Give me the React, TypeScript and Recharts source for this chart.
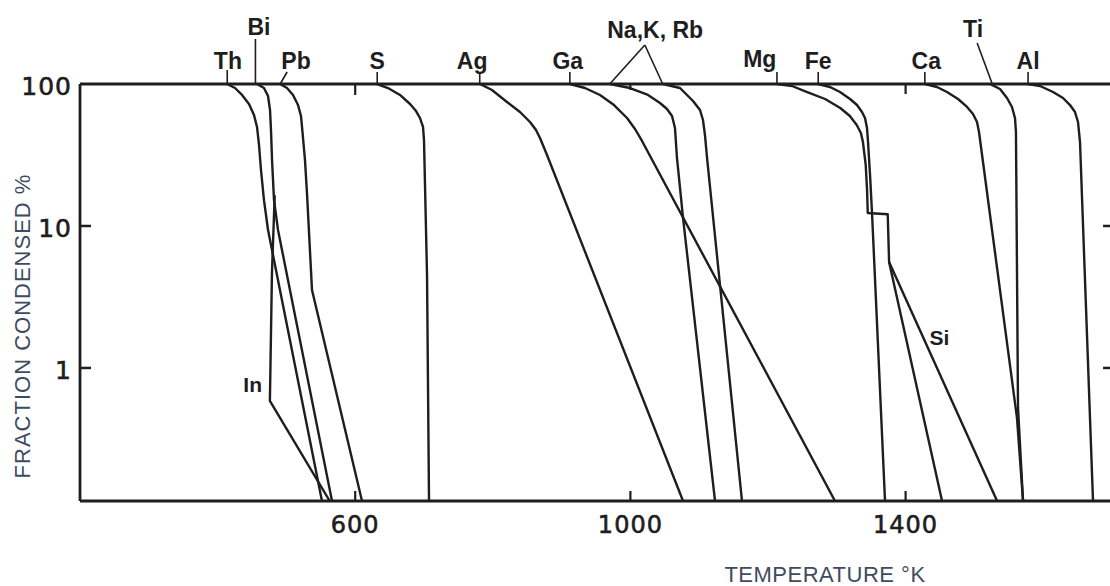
import React from 'react';
import { LineChart, Line, XAxis, YAxis, ReferenceLine, ReferenceDot, Label } from 'recharts';

// ---------- axes ----------
const Y_MIN = 0.1156;
const Y_MAX = 100;
const T_MIN = 200;
const T_MAX = 1700;
const xTicks = [600, 1000, 1400];
const yTicks = [1, 10, 100];
// inner tick marks on the top and right frame: [position, tick end value]
const topTickEnds = [[600, 83.7], [1000, 90.7], [1400, 85.0]];
const rightTickStarts = [[10, 1687], [1, 1687]];

// ---------- condensation curves: [temperature K, fraction condensed %] ----------
const thallium = [[413.7, 100], [425.3, 93.7], [435.5, 83.7], [445.6, 72.3], [452.9, 60.5], [457.3, 49.8], [460.2, 37.2], [463.1, 24.7], [467.4, 15.2], [473.3, 9.37], [551.7, Y_MIN]];
const bismuth = [[457.3, 100], [467.4, 93.7], [473.3, 82.3], [476.2, 65.6], [477.6, 47.4], [479.1, 29.2], [482.0, 15.2], [487.8, 9.37], [566.3, Y_MIN]];
const indium = [[483, 16.5], [479, 4.67], [476, 0.586], [563, Y_MIN]];
const lead = [[490.7, 100], [500.9, 93.7], [509.6, 83.7], [516.9, 71.1], [521.2, 59.5], [522.7, 49.8], [527.0, 29.2], [529.9, 17.1], [537.2, 3.54], [609.9, Y_MIN]];
const sulfur = [[631.7, 100], [647.7, 93.7], [665.1, 83.7], [679.7, 72.3], [688.4, 64.5], [694.2, 57.6], [698.6, 49.8], [700.0, 40.3], [704.4, 4.52], [707.3, Y_MIN]];
const silver = [[781.4, 100], [798.8, 90.7], [820.6, 74.7], [839.5, 63.5], [854.1, 54.0], [862.8, 47.4], [868.6, 41.7], [878.8, 31.6], [1076.5, Y_MIN]];
const gallium = [[912.2, 100], [934.0, 93.7], [955.8, 83.7], [976.2, 71.1], [995.1, 57.6], [1006.7, 48.2], [1016.9, 39.7], [1297.4, Y_MIN]];
const sodiumPotassium = [[970.4, 100], [999.4, 93.7], [1025.6, 83.7], [1043.0, 73.5], [1053.2, 66.7], [1060.5, 59.5], [1064.8, 49.0], [1067.7, 30.2], [1076.5, 11.4], [1123.0, Y_MIN]];
const rubidium = [[1047.4, 100], [1072.1, 93.7], [1091.0, 75.9], [1101.2, 65.6], [1105.5, 55.8], [1108.4, 43.7], [1111.4, 30.2], [1162.2, Y_MIN]];
const magnesium = [[1213, 100], [1235, 96.8], [1257, 87.8], [1283, 78.4], [1305, 67.8], [1319, 59.5], [1329, 51.4], [1335, 45.2], [1338, 39.0], [1342, 26.9], [1344, 17.9], [1345, 12.35], [1374, 12.1], [1376, 5.58], [1453, Y_MIN]];
const iron = [[1272.7, 100], [1290.1, 95.2], [1304.7, 87.8], [1319.2, 78.4], [1329.4, 71.1], [1336.6, 63.5], [1341.0, 57.6], [1343.9, 49.0], [1345.4, 39.0], [1348.3, 22.9], [1351.2, 12.35], [1370.1, Y_MIN]];
const silicon = [[1376, 5.58], [1533, Y_MIN]];
const calcium = [[1428.2, 100], [1445.6, 95.2], [1460.2, 87.8], [1476.2, 78.4], [1489.3, 68.9], [1498.0, 61.5], [1503.8, 54.0], [1506.7, 45.9], [1561.9, 0.445], [1570.7, Y_MIN]];
const titanium = [[1522.7, 100], [1537.2, 92.2], [1547.4, 79.7], [1554.6, 68.9], [1559.0, 57.6], [1560.4, 45.9], [1563.4, 0.523], [1570.7, Y_MIN]];
const aluminium = [[1577.9, 100], [1595.4, 96.8], [1614.3, 87.8], [1628.8, 79.7], [1639.0, 71.1], [1646.2, 63.5], [1650.6, 54.0], [1653.5, 39.0], [1672.4, Y_MIN]];

// ---------- element annotations ----------
const leaderSegments = [
  [[414, 100], [414, 125.5]],
  [[455, 100], [455, 207.5]],
  [[491, 100], [501, 121.5]],
  [[632, 100], [632, 121.5]],
  [[781, 100], [781, 121.5]],
  [[912, 100], [912, 121.5]],
  [[970, 100], [1021, 188.2]],
  [[1021, 188.2], [1047, 100]],
  [[1213, 100], [1213, 121.5]],
  [[1273, 100], [1273, 121.5]],
  [[1428, 100], [1428, 121.5]],
  [[1526, 100], [1504, 194.5]],
  [[1578, 100], [1578, 121.5]],
];
const elementNames = ['Th', 'Bi', 'Pb', 'S', 'Ag', 'Ga', 'Na,K, Rb', 'Mg', 'Fe', 'Ca', 'Ti', 'Al', 'In', 'Si'];
const elementLabelT = [415, 460, 514, 632, 770, 909, 1036, 1188, 1273, 1430, 1498, 1578, 451, 1449];
const elementLabelV = [127.5, 221, 127.5, 127.5, 127.5, 127.5, 211, 131.7, 127.5, 127.5, 214, 127.5, 0.678, 1.45];

const toPts = (arr: number[][]) => arr.map(([t, v]) => ({ t, v }));

const series: [string, number[][]][] = [
  ['Th', thallium],
  ['Bi', bismuth],
  ['In', indium],
  ['Pb', lead],
  ['S', sulfur],
  ['Ag', silver],
  ['Ga', gallium],
  ['NaK', sodiumPotassium],
  ['Rb', rubidium],
  ['Mg', magnesium],
  ['Fe', iron],
  ['Si', silicon],
  ['Ca', calcium],
  ['Ti', titanium],
  ['Al', aluminium],
];

const INK = '#1e1e1e';
const TITLE_INK = '#3f4b5e';
const TICK_FONT = '"DejaVu Sans", sans-serif';
const LABEL_FONT = '"Liberation Sans", Arial, sans-serif';

function BottomTick(props: any) {
  const { x, y, payload } = props;
  return (
    <g>
      <line x1={x} x2={x} y1={y} y2={y - 10} stroke={INK} strokeWidth={2.2} />
      <text x={x} y={y + 32} textAnchor="middle" fontFamily={TICK_FONT} fontSize={24} letterSpacing={1} fill={INK} stroke={INK} strokeWidth={0.6}>
        {payload.value}
      </text>
    </g>
  );
}

function LeftTick(props: any) {
  const { x, y, payload } = props;
  return (
    <g>
      {payload.value !== 100 && <line x1={x} x2={x + 11} y1={y} y2={y} stroke={INK} strokeWidth={2.5} />}
      <text x={x - 8} y={y + 11} textAnchor="end" fontFamily={TICK_FONT} fontSize={25} letterSpacing={1} fill={INK} stroke={INK} strokeWidth={0.6}>
        {payload.value}
      </text>
    </g>
  );
}

function XTitle(props: any) {
  const vb = props.viewBox || { x: 80, y: 501, width: 1032, height: 85 };
  return (
    <text x={vb.x + 745} y={vb.y + 81} textAnchor="middle" fontFamily={LABEL_FONT} fontSize={22} fill={TITLE_INK} letterSpacing={0.5}>
      TEMPERATURE °K
    </text>
  );
}

function YTitle(props: any) {
  const vb = props.viewBox || { x: 0, y: 84, width: 80, height: 417 };
  const cx = vb.x + 30;
  const cy = vb.y + 242;
  return (
    <text x={cx} y={cy} transform={`rotate(-90, ${cx}, ${cy})`} textAnchor="middle" fontFamily={LABEL_FONT} fontSize={22} fill={TITLE_INK} letterSpacing={1}>
      FRACTION CONDENSED %
    </text>
  );
}

export default function App() {
  return (
    <div style={{ position: 'absolute', left: 0, top: 0, width: 1110, height: 586, overflow: 'hidden', background: '#ffffff' }}>
      <LineChart width={1113} height={586} margin={{ top: 83, right: 0, bottom: 0, left: 0 }}>
        <XAxis
          xAxisId={0}
          type="number"
          dataKey="t"
          domain={[T_MIN, T_MAX]}
          allowDataOverflow
          ticks={xTicks}
          height={85}
          tickSize={0}
          tickMargin={0}
          tickLine={false}
          tick={<BottomTick />}
          axisLine={{ stroke: INK, strokeWidth: 2.8 }}
        >
          <Label content={<XTitle />} />
        </XAxis>
        <XAxis
          xAxisId="top"
          orientation="top"
          type="number"
          dataKey="t"
          domain={[T_MIN, T_MAX]}
          allowDataOverflow
          ticks={xTicks}
          height={1}
          tickLine={false}
          tick={false}
          axisLine={{ stroke: INK, strokeWidth: 2.8 }}
        />
        <YAxis
          yAxisId={0}
          type="number"
          dataKey="v"
          scale="log"
          domain={[Y_MIN, Y_MAX]}
          allowDataOverflow
          ticks={yTicks}
          width={80}
          tickSize={0}
          tickMargin={0}
          tickLine={false}
          tick={<LeftTick />}
          axisLine={{ stroke: INK, strokeWidth: 2.8 }}
        >
          <Label content={<YTitle />} />
        </YAxis>
        <YAxis
          yAxisId="right"
          orientation="right"
          type="number"
          scale="log"
          domain={[Y_MIN, Y_MAX]}
          allowDataOverflow
          ticks={yTicks}
          width={1}
          tickLine={false}
          tick={false}
          axisLine={{ stroke: INK, strokeWidth: 2.8 }}
        />

        {series.map(([name, data]) => (
          <Line
            key={name}
            data={toPts(data)}
            dataKey="v"
            type="linear"
            stroke={INK}
            strokeWidth={2.4}
            strokeLinejoin="round"
            dot={false}
            activeDot={false}
            isAnimationActive={false}
          />
        ))}

        {topTickEnds.map(([t, v]) => (
          <ReferenceLine
            key={`tt-${t}`}
            segment={[{ x: t, y: Y_MAX }, { x: t, y: v }]}
            stroke={INK}
            strokeWidth={2.2}
            ifOverflow="visible"
          />
        ))}
        {rightTickStarts.map(([v, t]) => (
          <ReferenceLine
            key={`rt-${v}`}
            segment={[{ x: t, y: v }, { x: T_MAX, y: v }]}
            stroke={INK}
            strokeWidth={2.5}
            ifOverflow="visible"
          />
        ))}

        {leaderSegments.map((seg, i) => (
          <ReferenceLine
            key={`lead-${i}`}
            segment={[{ x: seg[0][0], y: seg[0][1] }, { x: seg[1][0], y: seg[1][1] }]}
            stroke={INK}
            strokeWidth={1.6}
            ifOverflow="visible"
          />
        ))}

        {elementNames.map((name, i) => (
          <ReferenceDot
            key={`lab-${name}`}
            x={elementLabelT[i]}
            y={elementLabelV[i]}
            r={0}
            ifOverflow="visible"
            shape={(p: any) => (
              <text
                x={p.cx}
                y={p.cy}
                textAnchor="middle"
                fontFamily={LABEL_FONT}
                fontWeight="bold"
                fontSize={name === 'In' || name === 'Si' ? 21 : 23}
                fill={INK}
              >
                {name}
              </text>
            )}
          />
        ))}
      </LineChart>
    </div>
  );
}
